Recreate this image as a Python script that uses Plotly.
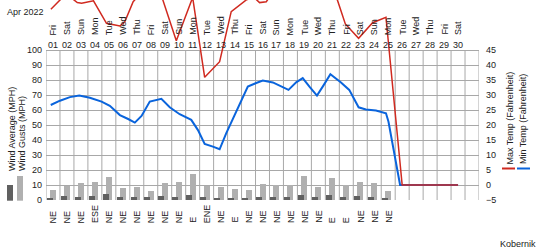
import plotly.graph_objects as go

# ---------------- data ----------------
days = list(range(1, 31))
weekday_labels = ["Fri", "Sat", "Sun", "Mon", "Tue", "Wed", "Thu"] * 4 + ["Fri", "Sat"]
day_numbers = [f"{d:02d}" for d in days]

wind_dir = ["NE", "NE", "NE", "ESE", "NE", "NE", "NE", "NE", "NE", "NE", "E", "ENE", "NE",
            "E", "NE", "NE", "NE", "NE", "NE", "NE", "E", "E", "NE", "NE", "NE"]
wind_avg = [1.3, 2.7, 2.0, 2.7, 4.0, 2.0, 2.0, 2.0, 2.7, 2.0, 3.3, 2.0, 1.3,
            1.3, 1.3, 2.0, 2.0, 2.0, 3.3, 2.0, 3.3, 2.0, 2.7, 2.0, 1.3]
wind_gust = [6.7, 9.6, 11.6, 12.0, 15.3, 8.0, 8.7, 6.0, 11.6, 12.0, 17.6, 9.6, 8.7,
             7.3, 6.7, 10.7, 10.0, 10.0, 16.0, 8.7, 14.7, 10.0, 12.0, 11.3, 6.0]
wind_days = days[:len(wind_avg)]

max_t_x = [0.85, 2.0, 2.5, 2.74, 3.05, 3.64, 3.9, 4.83, 5.79, 6.14, 6.74, 7.5, 8.7, 9.83,
           11.0, 11.86, 12.93, 13.76, 14.84, 15.4, 15.79, 16.27, 17.0, 20.5, 21.36, 21.93,
           22.88, 23.88, 24.84, 26, 27, 28, 29, 30]
max_t = [58.6, 64, 61.7, 60.8, 60.6, 61.2, 61.4, 53.9, 53.0, 54.4, 61.1, 65, 64, 48.1,
         62.5, 35.9, 41.1, 57.8, 61.7, 62.5, 60.8, 61.1, 66, 66, 61.7, 53.7,
         48.9, 54.1, 55.9, 0, 0, 0, 0, 0]

min_t_x = [0.84, 1.5, 2.21, 2.88, 3.64, 4.48, 5.07, 5.79, 6.38, 6.86, 7.34, 7.93, 8.76, 9.36,
           10.07, 10.9, 11.38, 11.86, 12.45, 12.93, 13.4, 13.88, 14.36, 14.95, 15.55, 16.02,
           16.74, 17.21, 17.86, 18.41, 18.88, 19.36, 19.9, 20.38, 20.86, 21.62, 22.21, 22.88,
           23.4, 24.12, 24.84, 25.02, 25.31, 25.55, 25.85, 27, 28, 29, 30]
min_t = [26.67, 28.1, 29.3, 29.8, 29.1, 27.8, 26.4, 23.3, 22.0, 20.8, 23.0, 27.8, 28.7, 25.9,
         23.6, 21.7, 18.3, 13.7, 12.8, 11.9, 17.2, 22.2, 27.2, 32.8, 34.0, 34.8,
         34.2, 33.1, 31.7, 34.2, 35.6, 32.8, 29.8, 33.3, 36.9, 34.2, 31.7, 25.9,
         25.2, 24.8, 23.9, 21.1, 13.9, 8.3, 0, 0, 0, 0, 0]

left_ticks = list(range(0, 101, 10))
right_ticks = list(range(-5, 46, 5))

# ---------------- style ----------------
FONT = "Liberation Sans, Arial, sans-serif"
TXT = "#222222"
GRID = "#a8a8a8"
RED = "#d02a20"
BLUE = "#0a64dc"
DARK = "#606060"
LIGHT = "#b0b0b0"

W, H = 540, 250
ML, MR, MT, MB = 46, 61, 0, 50
PW, PH = W - ML - MR, H - MT - MB
# left axis: 0..100 occupies bottom 150px of 200px paper height
Y_TOP = 100 * PH / 150.0
Y2_MIN = -5
Y2_TOP = Y2_MIN + 50 * PH / 150.0


def px_to_paper_x(px):
    return (px - ML) / PW


def px_to_paper_y(py):
    return (PH - (py - MT)) / PH


fig = go.Figure()

fig.add_trace(go.Bar(x=wind_days, y=wind_gust, width=0.43, offset=-0.214,
                     marker=dict(color=LIGHT, line=dict(width=0)), yaxis="y",
                     name="Wind Gusts (MPH)", showlegend=False))
fig.add_trace(go.Bar(x=wind_days, y=wind_avg, width=0.43, offset=-0.45,
                     marker=dict(color=DARK, line=dict(width=0)), yaxis="y",
                     name="Wind Average (MPH)", showlegend=False))
fig.add_trace(go.Scatter(x=min_t_x, y=min_t, mode="lines", yaxis="y2",
                         line=dict(color=BLUE, width=2), name="Min Temp (Fahrenheit)",
                         showlegend=False))
fig.add_trace(go.Scatter(x=max_t_x, y=max_t, mode="lines", yaxis="y2",
                         line=dict(color=RED, width=1.5), name="Max Temp (Fahrenheit)",
                         showlegend=False))

shapes = []
# vertical grid lines (column boundaries), restricted to the gridded area
for i in range(32):
    b = 0.5 + i
    shapes.append(dict(type="line", xref="x", yref="y", x0=b, x1=b, y0=0, y1=100,
                       line=dict(color=GRID, width=1), layer="below"))

# legend swatches
shapes.append(dict(type="rect", xref="paper", yref="paper",
                   x0=px_to_paper_x(7), x1=px_to_paper_x(13),
                   y0=px_to_paper_y(200.7), y1=px_to_paper_y(185),
                   fillcolor=DARK, line=dict(width=0)))
shapes.append(dict(type="rect", xref="paper", yref="paper",
                   x0=px_to_paper_x(17), x1=px_to_paper_x(23),
                   y0=px_to_paper_y(200.7), y1=px_to_paper_y(176),
                   fillcolor=LIGHT, line=dict(width=0)))
shapes.append(dict(type="line", xref="paper", yref="paper",
                   x0=px_to_paper_x(502), x1=px_to_paper_x(515),
                   y0=px_to_paper_y(168.5), y1=px_to_paper_y(168.5),
                   line=dict(color=RED, width=2)))
shapes.append(dict(type="line", xref="paper", yref="paper",
                   x0=px_to_paper_x(517), x1=px_to_paper_x(530),
                   y0=px_to_paper_y(168.5), y1=px_to_paper_y(168.5),
                   line=dict(color=BLUE, width=2)))

ann = []
f9 = dict(family=FONT, size=9, color=TXT)
for d, wd, dn in zip(days, weekday_labels, day_numbers):
    ann.append(dict(x=d, y=px_to_paper_y(36), xref="x", yref="paper", text=wd,
                    textangle=-90, xanchor="center", yanchor="bottom",
                    showarrow=False, font=f9, borderpad=0))
    ann.append(dict(x=d, y=px_to_paper_y(45), xref="x", yref="paper", text=dn,
                    xanchor="center", yanchor="middle", showarrow=False, font=f9,
                    borderpad=0))
for d, wd in zip(wind_days, wind_dir):
    ann.append(dict(x=d, y=px_to_paper_y(224), xref="x", yref="paper", text=wd,
                    textangle=-90, xanchor="center", yanchor="bottom",
                    showarrow=False, font=f9, borderpad=0))

ann.append(dict(x=px_to_paper_x(6), y=px_to_paper_y(12), xref="paper", yref="paper",
                text="Apr 2022", xanchor="left", yanchor="middle", showarrow=False,
                font=f9, borderpad=0))
ann.append(dict(x=px_to_paper_x(12), y=px_to_paper_y(172), xref="paper", yref="paper",
                text="Wind Average (MPH)", textangle=-90, xanchor="center",
                yanchor="bottom", showarrow=False, font=f9, borderpad=0))
ann.append(dict(x=px_to_paper_x(21.5), y=px_to_paper_y(172), xref="paper", yref="paper",
                text="Wind Gusts (MPH)", textangle=-90, xanchor="center",
                yanchor="bottom", showarrow=False, font=f9, borderpad=0))
ann.append(dict(x=px_to_paper_x(509), y=px_to_paper_y(165), xref="paper", yref="paper",
                text="Max Temp (Fahrenheit)", textangle=-90, xanchor="center",
                yanchor="bottom", showarrow=False, font=f9, borderpad=0))
ann.append(dict(x=px_to_paper_x(523), y=px_to_paper_y(165), xref="paper", yref="paper",
                text="Min Temp (Fahrenheit)", textangle=-90, xanchor="center",
                yanchor="bottom", showarrow=False, font=f9, borderpad=0))
ann.append(dict(x=px_to_paper_x(537), y=px_to_paper_y(244), xref="paper", yref="paper",
                text="Kobernik", xanchor="right", yanchor="middle", showarrow=False,
                font=f9, borderpad=0))

fig.update_layout(
    width=W, height=H,
    margin=dict(l=ML, r=MR, t=MT, b=MB, pad=0),
    paper_bgcolor="white", plot_bgcolor="white",
    barmode="overlay", bargap=0,
    showlegend=False,
    font=dict(family=FONT, size=9, color=TXT),
    xaxis=dict(range=[0.5, 31.5], visible=False, fixedrange=True),
    yaxis=dict(range=[0, Y_TOP], tickmode="array", tickvals=left_ticks,
               showgrid=True, gridcolor=GRID, gridwidth=1, zeroline=False,
               showline=False, ticks="", tickfont=f9, ticklabelstandoff=3),
    yaxis2=dict(range=[Y2_MIN, Y2_TOP], overlaying="y", side="right",
                tickmode="array", tickvals=right_ticks, showgrid=False,
                zeroline=False, showline=False, ticks="", tickfont=f9,
                ticklabelstandoff=6),
    shapes=shapes,
    annotations=ann,
)

fig.write_html("out.html")
